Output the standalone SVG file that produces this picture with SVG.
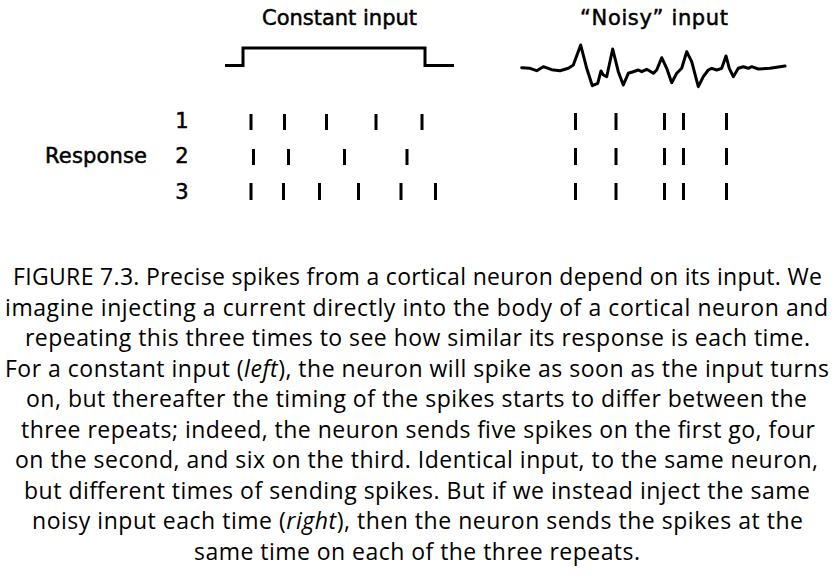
<svg xmlns="http://www.w3.org/2000/svg" width="839" height="575" viewBox="0 0 839 575">
<style>
.lbl{font-family:"DejaVu Sans","Liberation Sans",sans-serif;font-size:21px;fill:#000;stroke:#000;stroke-width:0.5}
.cap{font-family:"Open Sans","Noto Sans","Liberation Sans",sans-serif;font-size:23px;fill:#000;text-anchor:middle}
.sig{fill:none;stroke:#000;stroke-width:3;stroke-linejoin:round;stroke-linecap:round}
.spk line{stroke:#000;stroke-width:3}
</style>
<rect width="839" height="575" fill="#fff"/>
<g id="constant-input">
<text class="lbl" x="339.5" y="25" text-anchor="middle" textLength="155">Constant input</text>
<polyline class="sig" style="stroke-linecap:butt;stroke-linejoin:miter" points="225,65.5 243,65.5 243,48 425,48 425,65.5 454,65.5"/>
</g>
<g id="noisy-input">
<text class="lbl" x="654" y="25" text-anchor="middle" textLength="148">“Noisy” input</text>
<polyline class="sig" points="521.7,67.7 530,68.3 536.7,70.7 543.3,66.7 551.7,69.7 560,70.7 568.3,68.3 573.3,65 580.7,45 586.7,68.3 592.3,85.7 597.7,83.3 601,71 603.3,75 606.7,76.7 612.7,49 618.3,71.7 623.3,85 628.3,73.3 633.3,71.7 638.3,70 641.7,71.7 646.7,69.3 651.7,72.3 653.3,73.3 656.7,70 661.7,57.7 666.7,68.3 671.7,82.7 676.7,73.3 681.7,68.3 686.7,51.7 691.7,61.7 698.3,86.7 703.3,76.7 708.3,70 711.7,68.3 716.7,70 721.7,68.3 726,56 729.3,68.3 733.3,76.7 738.3,68.3 743.3,66.7 748.3,68.3 751.7,66.7 758.3,69 770,68.3 785,66"/>
</g>
<g id="response-labels">
<text class="lbl" x="45" y="163" textLength="102">Response</text>
<text class="lbl" x="182" y="128" text-anchor="middle">1</text>
<text class="lbl" x="182" y="163" text-anchor="middle">2</text>
<text class="lbl" x="182" y="198.5" text-anchor="middle">3</text>
</g>
<g id="constant-spikes" class="spk">
<line x1="251" y1="114" x2="251" y2="130"/>
<line x1="284.5" y1="114" x2="284.5" y2="130"/>
<line x1="326.5" y1="114" x2="326.5" y2="130"/>
<line x1="376" y1="114" x2="376" y2="130"/>
<line x1="422" y1="114" x2="422" y2="130"/>
<line x1="253.5" y1="149" x2="253.5" y2="165"/>
<line x1="288.5" y1="149" x2="288.5" y2="165"/>
<line x1="344.5" y1="149" x2="344.5" y2="165"/>
<line x1="407" y1="149" x2="407" y2="165"/>
<line x1="251" y1="183" x2="251" y2="200"/>
<line x1="283.5" y1="183" x2="283.5" y2="200"/>
<line x1="319.5" y1="183" x2="319.5" y2="200"/>
<line x1="358.5" y1="183" x2="358.5" y2="200"/>
<line x1="401" y1="183" x2="401" y2="200"/>
<line x1="435.5" y1="183" x2="435.5" y2="200"/>
</g>
<g id="noisy-spikes" class="spk">
<line x1="575.5" y1="113" x2="575.5" y2="130"/>
<line x1="616" y1="113" x2="616" y2="130"/>
<line x1="664.5" y1="113" x2="664.5" y2="130"/>
<line x1="683.5" y1="113" x2="683.5" y2="130"/>
<line x1="726.5" y1="113" x2="726.5" y2="130"/>
<line x1="575.5" y1="148" x2="575.5" y2="165"/>
<line x1="616" y1="148" x2="616" y2="165"/>
<line x1="664.5" y1="148" x2="664.5" y2="165"/>
<line x1="683.5" y1="148" x2="683.5" y2="165"/>
<line x1="726.5" y1="148" x2="726.5" y2="165"/>
<line x1="575.5" y1="183" x2="575.5" y2="200"/>
<line x1="616" y1="183" x2="616" y2="200"/>
<line x1="664.5" y1="183" x2="664.5" y2="200"/>
<line x1="683.5" y1="183" x2="683.5" y2="200"/>
<line x1="726.5" y1="183" x2="726.5" y2="200"/>
</g>
<g id="caption">
<text class="cap" x="417.5" y="285" textLength="809">FIGURE 7.3. Precise spikes from a cortical neuron depend on its input. We</text>
<text class="cap" x="416.5" y="315.5" textLength="823">imagine injecting a current directly into the body of a cortical neuron and</text>
<text class="cap" x="417.5" y="346" textLength="785">repeating this three times to see how similar its response is each time.</text>
<text class="cap" x="417" y="376.5" textLength="824">For a constant input (<tspan font-style="italic">left</tspan>), the neuron will spike as soon as the input turns</text>
<text class="cap" x="416.5" y="407" textLength="781">on, but thereafter the timing of the spikes starts to differ between the</text>
<text class="cap" x="418" y="437.5" textLength="794">three repeats; indeed, the neuron sends five spikes on the first go, four</text>
<text class="cap" x="416.5" y="468" textLength="803">on the second, and six on the third. Identical input, to the same neuron,</text>
<text class="cap" x="417" y="498.5" textLength="786">but different times of sending spikes. But if we instead inject the same</text>
<text class="cap" x="417.5" y="529" textLength="771">noisy input each time (<tspan font-style="italic">right</tspan>), then the neuron sends the spikes at the</text>
<text class="cap" x="417" y="559.5" textLength="446">same time on each of the three repeats.</text>
</g>
</svg>
